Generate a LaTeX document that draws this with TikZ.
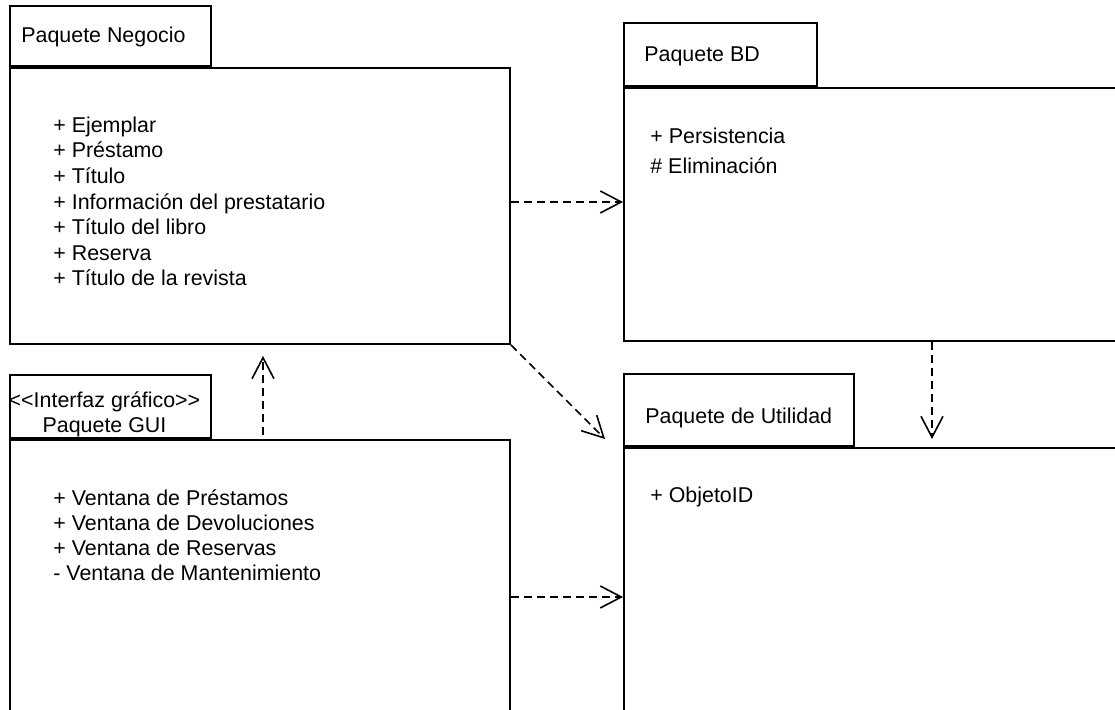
\documentclass[tikz,border=0pt]{standalone}
\usepackage{fontspec}
\setmainfont{Liberation Sans}
\usetikzlibrary{arrows.meta, positioning, calc}
\tikzset{
  pkgtab/.style ={draw, rectangle, anchor=north west, inner sep=0pt, line width=1pt},
  pkgbody/.style={draw, rectangle, anchor=north west, inner sep=0pt, line width=1pt},
  lbl/.style    ={font=\fontsize{10.7}{12.8}\selectfont, inner sep=0pt, anchor=base west},
  attr/.style   ={lbl, align=left},
  dep/.style    ={dash pattern=on 4pt off 2.5pt, line width=0.8pt, -{Straight Barb[length=10.5pt, width=11pt]}},
}

\begin{document}
\begin{tikzpicture}[x=0.5pt, y=-0.5pt]
  \useasboundingbox (0,0) rectangle (1115,710);
  \clip (0,0) rectangle (1115,710);
  \node[pkgtab, minimum width=100.5pt, minimum height=30pt] (negTab) at (9,5) {};
  \node[pkgbody, minimum width=250pt, minimum height=138pt] (negBody) at (negTab.south west) {};
  \node[lbl] (negName) at (21,43) {Paquete Negocio};
  \node[attr, font=\fontsize{10.7}{12.83}\selectfont] (negAttr) at (53,286)
    {+ Ejemplar\\+ Préstamo\\+ Título\\+ Información del prestatario\\+ Título del libro\\+ Reserva\\+ Título de la revista};
  \node[pkgtab, minimum width=96.5pt, minimum height=31.5pt] (bdTab) at (623,22) {};
  \node[pkgbody, minimum width=308pt, minimum height=126.5pt] (bdBody) at (bdTab.south west) {};
  \node[lbl] (bdName) at (644,62) {Paquete BD};
  \node[attr, font=\fontsize{10.7}{15}\selectfont] (bdAttr) at (650,174) {+ Persistencia\\\# Eliminación};
  \node[pkgtab, minimum width=100.5pt, minimum height=31.5pt] (guiTab) at (9,374) {};
  \node[pkgbody, minimum width=250pt, minimum height=157pt] (guiBody) at (guiTab.south west) {};
  \node[lbl, anchor=base, align=center, font=\fontsize{10.7}{12.5}\selectfont] (guiName) at (104.5,433)
    {\textless{}\textless{}Interfaz gráfico\textgreater{}\textgreater{}\\Paquete GUI};
  \node[attr, font=\fontsize{10.7}{12.6}\selectfont] (guiAttr) at (53,581)
    {+ Ventana de Préstamos\\+ Ventana de Devoluciones\\+ Ventana de Reservas\\- Ventana de Mantenimiento};
  \node[pkgtab, minimum width=115pt, minimum height=36pt] (utilTab) at (623,373) {};
  \node[pkgbody, minimum width=308pt, minimum height=200pt] (utilBody) at (utilTab.south west) {};
  \node[lbl] (utilName) at (645,424) {Paquete de Utilidad};
  \node[lbl] (utilAttr) at (650,503) {+ ObjetoID};
  \draw[dep] ($(negBody.east)+(0,-4)$) -- ($(negBody.east -| bdBody.west)+(0,-4)$);
  \draw[dep] (negBody.south east) -- ($(utilBody.north west)+(-18,-8)$);
  \draw[dep] ($(guiBody.north)+(3,-4)$) -- ($(negBody.south)+(3,11)$);
  \draw[dep] (bdBody.south) -- ($(bdBody.south |- utilBody.north)+(0,-8)$);
  \draw[dep] (guiBody.east) -- (guiBody.east -| utilBody.west);
\end{tikzpicture}
\end{document}
